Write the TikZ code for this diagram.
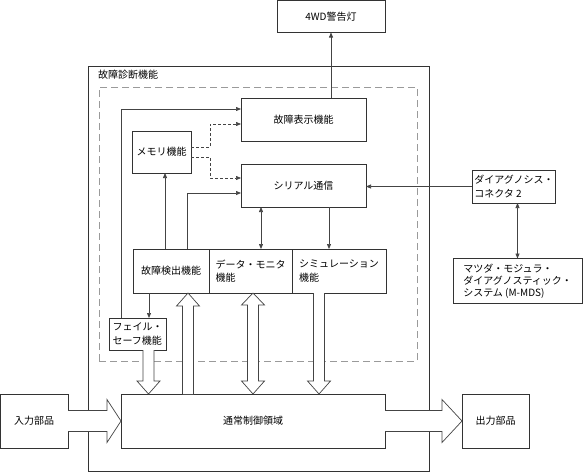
\documentclass[tikz,border=0pt]{standalone}
\usepackage{fontspec}
\setmainfont{Noto Sans CJK JP}
\usetikzlibrary{arrows.meta, positioning, calc}
\definecolor{boxline}{HTML}{333333}
\definecolor{frameline}{HTML}{9A9A9A}
\definecolor{conline}{HTML}{444444}
\tikzset{
  blk/.style={
    draw=boxline, line width=0.9pt, fill=white, inner sep=2pt,
    outer sep=0pt, align=left, font=\fontsize{10}{13.5}\selectfont
  },
  fnframe/.style={
    draw=frameline, line width=0.9pt, dash pattern=on 7pt off 4pt
  },
  arr/.style={-{Triangle[length=5pt,width=4pt]}, line width=0.7pt, draw=conline},
  biarr/.style={{Triangle[length=5pt,width=4pt]}-{Triangle[length=5pt,width=4pt]},
    line width=0.7pt, draw=conline},
  darr/.style={-{Triangle[length=5pt,width=4pt]}, line width=0.6pt, draw=conline,
    dash pattern=on 3pt off 2pt},
  fat/.style={draw=conline, line width=0.7pt, fill=white, line join=miter},
}
% hollow block arrows
\newcommand{\fatdown}[2]{%
  \draw[fat] let \p1=#1, \p2=#2 in
    (\x1-5.5pt,\y1) -- (\x1-5.5pt,\y2+13pt) -- (\x1-11.5pt,\y2+13pt) -- (\x1,\y2)
    -- (\x1+11.5pt,\y2+13pt) -- (\x1+5.5pt,\y2+13pt) -- (\x1+5.5pt,\y1);}
\newcommand{\fatup}[2]{%
  \draw[fat] let \p1=#1, \p2=#2 in
    (\x1-5.5pt,\y1) -- (\x1-5.5pt,\y2-13pt) -- (\x1-11.5pt,\y2-13pt) -- (\x1,\y2)
    -- (\x1+11.5pt,\y2-13pt) -- (\x1+5.5pt,\y2-13pt) -- (\x1+5.5pt,\y1);}
\newcommand{\fatboth}[2]{%
  \draw[fat] let \p1=#1, \p2=#2 in
    (\x1,\y1) -- (\x1+11.5pt,\y1-12pt) -- (\x1+5.5pt,\y1-12pt)
    -- (\x1+5.5pt,\y2+13pt) -- (\x1+11.5pt,\y2+13pt) -- (\x1,\y2)
    -- (\x1-11.5pt,\y2+13pt) -- (\x1-5.5pt,\y2+13pt)
    -- (\x1-5.5pt,\y1-12pt) -- (\x1-11.5pt,\y1-12pt) -- cycle;}
\newcommand{\fatright}[3]{%
  \draw[fat] let \p1=#1, \p2=#2 in
    (\x1,\y1+10.5pt) -- (\x2-#3,\y1+10.5pt) -- (\x2-#3,\y1+21.5pt) -- (\x2,\y1)
    -- (\x2-#3,\y1-21.5pt) -- (\x2-#3,\y1-10.5pt) -- (\x1,\y1-10.5pt);}

\begin{document}
\begin{tikzpicture}[x=1pt, y=-1pt]
  \useasboundingbox (0,0) rectangle (584,472);

  % Frames
  \node[blk, minimum width=341pt, minimum height=405pt] (diag) at (258.5,268.5) {};
  \node[anchor=west, inner sep=0pt, font=\fontsize{10}{13.5}\selectfont]
    (diaglbl) at (98,75) {故障診断機能};
  \node[fnframe, minimum width=318pt, minimum height=274pt] (fnarea) at (258,224) {};

  % Top lamp
  \node[blk, minimum width=108pt, minimum height=32pt] (warn) at (331,16.5) {4WD警告灯};

  % Diagnosis functions
  \node[blk, minimum width=125pt, minimum height=43pt] (disp) at (303.5,119.5) {故障表示機能};
  \node[blk, minimum width=59pt, minimum height=42pt] (mem) at (161.5,152) {メモリ機能};
  \node[blk, minimum width=125pt, minimum height=43pt] (ser) at (303.5,185.5) {シリアル通信};
  \node[blk, minimum width=76pt, minimum height=44pt] (det) at (171,271) {故障検出機能};
  \node[blk, minimum width=83pt, minimum height=44pt, right=0pt of det] (mon)
    {データ・モニタ\\機能};
  \node[blk, minimum width=94pt, minimum height=44pt, right=0pt of mon] (sim)
    {シミュレーション\\機能};
  \node[blk, minimum width=57pt, minimum height=32pt] (fail) at (137.5,334)
    {フェイル・\\セーフ機能};

  % Control area and parts
  \node[blk, minimum width=264pt, minimum height=54pt] (main) at (253,421) {通常制御領域};
  \node[blk, minimum width=68pt, minimum height=54pt] (inp) at (34,421) {入力部品};
  \node[blk, minimum width=67pt, minimum height=54pt] (outp) at (495.5,421) {出力部品};

  % External tools
  \node[blk, minimum width=80pt, minimum height=33pt] (dc) at (514,186.5)
    {ダイアグノシス・\\コネクタ 2};
  \node[blk, minimum width=129pt, minimum height=45pt,
    font=\fontsize{10}{12}\selectfont] (mmds) at (517.5,281)
    {マツダ・モジュラ・\\ダイアグノスティック・\\システム (M-MDS)};

  % Connectors
  \draw[arr] (warn.south |- disp.north) -- (warn.south);
  \draw[arr] ([xshift=-16.5pt]fail.north) |- ([yshift=10.5pt]disp.west);
  \draw[darr] ([yshift=5pt]mem.east) -- ++(19pt,0) |- ([yshift=-4.5pt]disp.west);
  \draw[darr] ([yshift=-5pt]mem.east) -- ++(19pt,0) |- ([yshift=7.5pt]ser.west);
  \draw[arr] ([xshift=3.5pt]mem.south |- det.north) -- ([xshift=3.5pt]mem.south);
  \draw[arr] ([xshift=16pt]det.north) |- ([yshift=-7.5pt]ser.west);
  \draw[arr] (dc.west) -- (dc.west -| ser.east);
  \draw[biarr] ([xshift=-42.5pt]ser.south) -- ([xshift=-42.5pt]ser.south |- mon.north);
  \draw[arr] ([xshift=25.5pt]ser.south) -- ([xshift=25.5pt]ser.south |- sim.north);
  \draw[arr] ([xshift=-22pt]det.south) -- ([xshift=-22pt]det.south |- fail.north);
  \draw[biarr] (dc.south -| mmds.north) -- (mmds.north);

  % Block arrows
  \fatdown{([xshift=11pt]fail.south)}{([xshift=11pt]fail.south |- main.north)}
  \fatup{([xshift=17pt]det.south |- main.north)}{([xshift=17pt]det.south)}
  \fatboth{([xshift=2.5pt]mon.south)}{([xshift=2.5pt]mon.south |- main.north)}
  \fatdown{([xshift=-20pt]sim.south)}{([xshift=-20pt]sim.south |- main.north)}
  \fatright{(inp.east)}{(main.west)}{14pt}
  \fatright{(main.east)}{(outp.west)}{20pt}
\end{tikzpicture}
\end{document}
